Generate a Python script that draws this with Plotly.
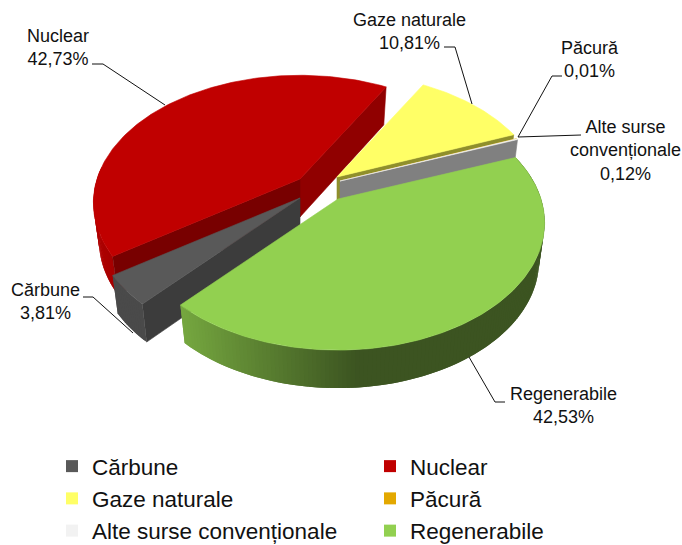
import math
import plotly.graph_objects as go

# ---- data ----
categories = ["Cărbune", "Nuclear", "Gaze naturale", "Păcură", "Alte surse convenționale", "Regenerabile"]
values = [3.81, 42.73, 10.81, 0.01, 0.12, 42.53]
slice_colors = ["#595959", "#c00000", "#ffff66", "#e3a800", "#f2f2f2", "#92d050"]

# ---- drawing parameters (3-D pie look) ----
W, H = 682, 545
FIRST_ANGLE = 222.0
RX, RY, PERSP = 203.0, 123.0, 0.186
DEPTH, BOTTOM_SCALE = 38.0, 0.973
apex = {
    "Cărbune": (300, 198),
    "Nuclear": (300, 179),
    "Gaze naturale": (337, 177),
    "Păcură": (340, 181),
    "Alte surse convenționale": (340, 181),
    "Regenerabile": (338, 199),
}
label_pos = {
    "Cărbune": (45, 301, "Cărbune<br>3,81%"),
    "Nuclear": (58, 47, "Nuclear<br>42,73%"),
    "Gaze naturale": (409, 31, "Gaze naturale<br>10,81%"),
    "Păcură": (590, 59, "Păcură<br>0,01%"),
    "Alte surse convenționale": (625, 150, "Alte surse<br>convenționale<br>0,12%"),
    "Regenerabile": (563, 405, "Regenerabile<br>42,53%"),
}
leaders = {
    "Cărbune": [(83, 297), (93, 297), (133, 333)],
    "Nuclear": [(92, 64), (103, 64), (165, 105)],
    "Gaze naturale": [(444, 47), (455, 47), (472, 104)],
    "Păcură": [(562, 76), (552, 76), (518, 137)],
    "Alte surse convenționale": [(581, 135), (518, 137)],
    "Regenerabile": [(505, 402), (495, 402), (469, 357)],
}

# ---- angular spans derived from the values ----
total = sum(values)
spans = {}
a = FIRST_ANGLE
for name, v in zip(categories, values):
    spans[name] = (a, a + v / total * 360.0)
    a += v / total * 360.0


def project(theta, center, bottom=False):
    t = math.radians(theta)
    u, v = math.sin(t), -math.cos(t)
    w = 1 - PERSP * v
    x, y = RX * u / w, RY * v / w
    if bottom:
        return center[0] + x * BOTTOM_SCALE, center[1] + y + DEPTH
    return center[0] + x, center[1] + y


def arc(a0, a1, center, bottom=False):
    n = max(2, int(abs(a1 - a0)) + 2)
    return [project(a0 + (a1 - a0) * i / (n - 1), center, bottom) for i in range(n)]


fig = go.Figure()


def poly(points, color, line=0.6):
    xs = [p[0] for p in points] + [points[0][0]]
    ys = [p[1] for p in points] + [points[0][1]]
    fig.add_trace(go.Scatter(x=xs, y=ys, mode="lines", fill="toself", fillcolor=color,
                             line=dict(color=color, width=line), hoverinfo="skip", showlegend=False))


def radial_wall(theta, center, color):
    p = project(theta, center)
    q = project(theta, center, True)
    poly([center, p, q, (center[0], center[1] + DEPTH)], color)


def lerp_color(c0, c1, t):
    t = max(0.0, min(1.0, t))
    return "rgb(%d,%d,%d)" % tuple(c0[i] + (c1[i] - c0[i]) * t for i in range(3))


def outer_wall(a0, a1, center, colfn, step=1.0):
    # segments overlap so that no pale seams show between them; drawn from a1 back to a0
    th = a1
    while th > a0 + 1e-6:
        lo = max(th - step, a0)
        top = arc(lo, min(th + step, a1), center)
        bot = arc(lo, min(th + step, a1), center, True)
        mx = project((lo + th) / 2, center)[0]
        poly(top + bot[::-1], colfn(mx), line=0)
        th = lo


def top_surface(name):
    c = apex[name]
    a0, a1 = spans[name]
    col = slice_colors[categories.index(name)]
    poly([c] + arc(a0, a1, c), col)


# Nuclear
n = "Nuclear"
a0, a1 = spans[n]
outer_wall(a0, a0 + 40, apex[n], lambda x: lerp_color((176, 0, 0), (160, 0, 0), (x - 95) / 30))
radial_wall(a1, apex[n], "#900000")
radial_wall(a0, apex[n], "#780000")
top_surface(n)

# Gaze naturale
n = "Gaze naturale"
radial_wall(spans[n][1], apex[n], "#8f8f2c")
top_surface(n)

# Păcură and Alte surse
n = "Păcură"
top_surface(n)
n = "Alte surse convenționale"
radial_wall(spans[n][1], apex[n], "#808080")
top_surface(n)

# Cărbune
n = "Cărbune"
a0, a1 = spans[n]
c = apex[n]
radial_wall(a0, c, "#3c3c3c")
outer_wall(a0, a1, c, lambda x: "#4a4a4a")
top_surface(n)

# Regenerabile
n = "Regenerabile"
a0, a1 = spans[n]
outer_wall(a0, a1, apex[n], lambda x: lerp_color((118, 168, 64), (60, 84, 33), (x - 182) / 180))
top_surface(n)

# leader lines
for name, pts in leaders.items():
    fig.add_trace(go.Scatter(x=[p[0] for p in pts], y=[p[1] for p in pts], mode="lines",
                             line=dict(color="#111111", width=1), hoverinfo="skip", showlegend=False))

# legend entries
for name, col in zip(categories, slice_colors):
    fig.add_trace(go.Scatter(x=[None], y=[None], mode="markers", name=name,
                             marker=dict(symbol="square", size=12, color=col)))

annotations = [
    dict(x=x, y=y, xref="x", yref="y", text=t, showarrow=False, align="center",
         xanchor="center", yanchor="middle",
         font=dict(family="Liberation Sans", size=18, color="#111111"))
    for (x, y, t) in label_pos.values()
]

fig.update_layout(
    width=W, height=H, autosize=False,
    margin=dict(l=0, r=0, t=0, b=0, autoexpand=False),
    paper_bgcolor="white", plot_bgcolor="white",
    xaxis=dict(range=[0, W], visible=False, fixedrange=True, domain=[0, 1]),
    yaxis=dict(range=[H, 0], visible=False, fixedrange=True, domain=[0, 1]),
    annotations=annotations,
    showlegend=True,
    legend=dict(orientation="h", x=52 / W, xanchor="left", y=1 - 445 / H, yanchor="top",
                entrywidth=273, entrywidthmode="pixels", traceorder="normal",
                font=dict(family="Liberation Sans", size=22.5, color="#111111"),
                bgcolor="rgba(0,0,0,0)"),
)
fig.write_html("out.html", post_script="document.body.style.margin='0';",
               config={"displayModeBar": False})
